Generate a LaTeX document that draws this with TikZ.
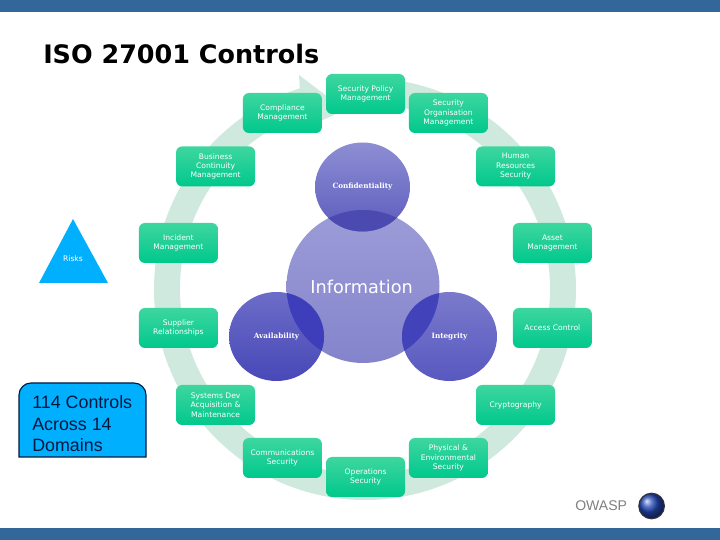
\documentclass[tikz,border=0pt]{standalone}
\usepackage{fontspec}
\setmainfont{DejaVu Sans}
\newfontfamily\arialfont{Liberation Sans}
\newfontfamily\labelfont{DejaVu Serif}
\usepackage{tikz}
\usetikzlibrary{shapes.geometric}
\usepackage{xcolor}
\definecolor{owaspbar}{RGB}{51,102,153}
\definecolor{ringgreen}{RGB}{207,233,222}
\definecolor{boxtop}{RGB}{62,214,160}
\definecolor{boxbottom}{RGB}{0,200,140}
\definecolor{riskblue}{RGB}{0,176,255}
\definecolor{navyline}{RGB}{0,24,64}
\definecolor{infotop}{RGB}{156,156,216}
\definecolor{infobottom}{RGB}{132,132,204}
\definecolor{conftop}{RGB}{142,142,212}
\definecolor{confbottom}{RGB}{92,92,190}
\definecolor{availtop}{RGB}{108,108,200}
\definecolor{availbottom}{RGB}{72,72,184}
\definecolor{integtop}{RGB}{122,122,204}
\definecolor{integbottom}{RGB}{88,88,192}
\definecolor{confdark}{RGB}{74,74,176}
\definecolor{availdark}{RGB}{62,62,186}
\definecolor{integdark}{RGB}{66,66,186}
\tikzset{
    domainbox/.style={rectangle, rounded corners=0.15cm, minimum width=1.975cm, minimum height=1cm,
        inner sep=0pt, top color=boxtop, bottom color=boxbottom, text=white, align=center,
        font=\fontsize{5.4}{6.75}\selectfont},
    petal/.style={ellipse, minimum width=2.375cm, minimum height=2.225cm, inner sep=0pt, text=white,
        font=\labelfont\bfseries\fontsize{5.15}{6.5}\selectfont}
}

\begin{document}
\begin{tikzpicture}
    \useasboundingbox (0,0) rectangle (18,13.5);

    % bars
    \fill[owaspbar] (0,13.2) rectangle (18,13.5);
    \fill[owaspbar] (0,0) rectangle (18,0.3);
    \node[anchor=west, inner sep=0pt, font=\bfseries\fontsize{18.1}{20}\selectfont] (title) at (1.075,12.15) {ISO 27001 Controls};

    % ring
    \begin{scope}[shift={(9.125,6.275)}]
        \fill[ringgreen] (90:5.275) arc[start angle=90, end angle=-252, radius=5.275]
            -- (-1.65,5.35) -- (-0.5,4.475) -- (-1.5,4.025) -- (108:4.625)
            arc[start angle=-252, end angle=90, radius=4.625] -- cycle;
    \end{scope}

    % domains
    \foreach \nm/\x/\y/\txt in {
        policy/9.14/11.15/{Security Policy\\Management},
        compliance/7.06/10.675/{Compliance\\Management},
        organisation/11.21/10.675/{Security\\Organisation\\Management},
        business/5.39/9.34/{Business\\Continuity\\Management},
        human/12.89/9.34/{Human\\Resources\\Security},
        incident/4.46/7.425/{Incident\\Management},
        asset/13.81/7.425/{Asset\\Management},
        supplier/4.46/5.3/{Supplier\\Relationships},
        access/13.81/5.3/{Access Control},
        systems/5.39/3.375/{Systems Dev\\Acquisition \&\\Maintenance},
        crypto/12.89/3.375/{Cryptography},
        comms/7.06/2.05/{Communications\\Security},
        physical/11.21/2.05/{Physical \&\\Environmental\\Security},
        operations/9.14/1.575/{Operations\\Security}} {
        \node[domainbox] (\nm) at (\x,\y) {\txt};
    }

    % circles
    \node[circle, minimum size=3.825cm, inner sep=0pt, top color=infotop, bottom color=infobottom,
        text=white, font=\fontsize{12.6}{15}\selectfont] (info) at (9.075,6.3375) {\hspace{-2pt}Information};
    \node[petal, top color=conftop, bottom color=confbottom] (conf) at (9.0625,8.825) {Confidentiality};
    \node[petal, top color=availtop, bottom color=availbottom] (avail) at (6.9125,5.0875) {Availability};
    \node[petal, top color=integtop, bottom color=integbottom] (integ) at (11.2375,5.0875) {Integrity};

    % overlaps
    \begin{scope}
        \clip (info.center) circle (1.9125);
        \fill[confdark] (conf.center) ellipse (1.1875 and 1.1125);
        \fill[availdark] (avail.center) ellipse (1.1875 and 1.1125);
        \fill[integdark] (integ.center) ellipse (1.1875 and 1.1125);
    \end{scope}

    % risks
    \fill[riskblue] (1.825,8.025) -- (0.975,6.425) -- (2.7,6.425) -- cycle;
    \node[text=white, inner sep=0pt, font=\fontsize{5.4}{6.75}\selectfont] (risks) at (1.825,7.025) {Risks};

    % controls box
    \draw[fill=riskblue, draw=navyline, thick] (0.475,2.075) -- (0.475,3.625) arc[start angle=180, end angle=90, radius=0.3]
        -- (3.35,3.925) arc[start angle=90, end angle=0, radius=0.3] -- (3.65,2.075) -- cycle;
    \node[anchor=west, inner sep=0pt, align=left, text=navyline, font=\arialfont\fontsize{12.7}{15.3}\selectfont] (controls) at (0.8,2.9) {114 Controls\\Across 14\\Domains};

    % logo
    \node[anchor=west, inner sep=0pt, text=black!50, font=\arialfont\fontsize{10}{12}\selectfont] (owasp) at (14.375,0.85) {OWASP};
    \shade[ball color=owaspbar!70!blue] (16.29,0.85) circle (0.32);
    \draw[black!80, thick] (16.29,0.85) circle (0.32);
\end{tikzpicture}
\end{document}
